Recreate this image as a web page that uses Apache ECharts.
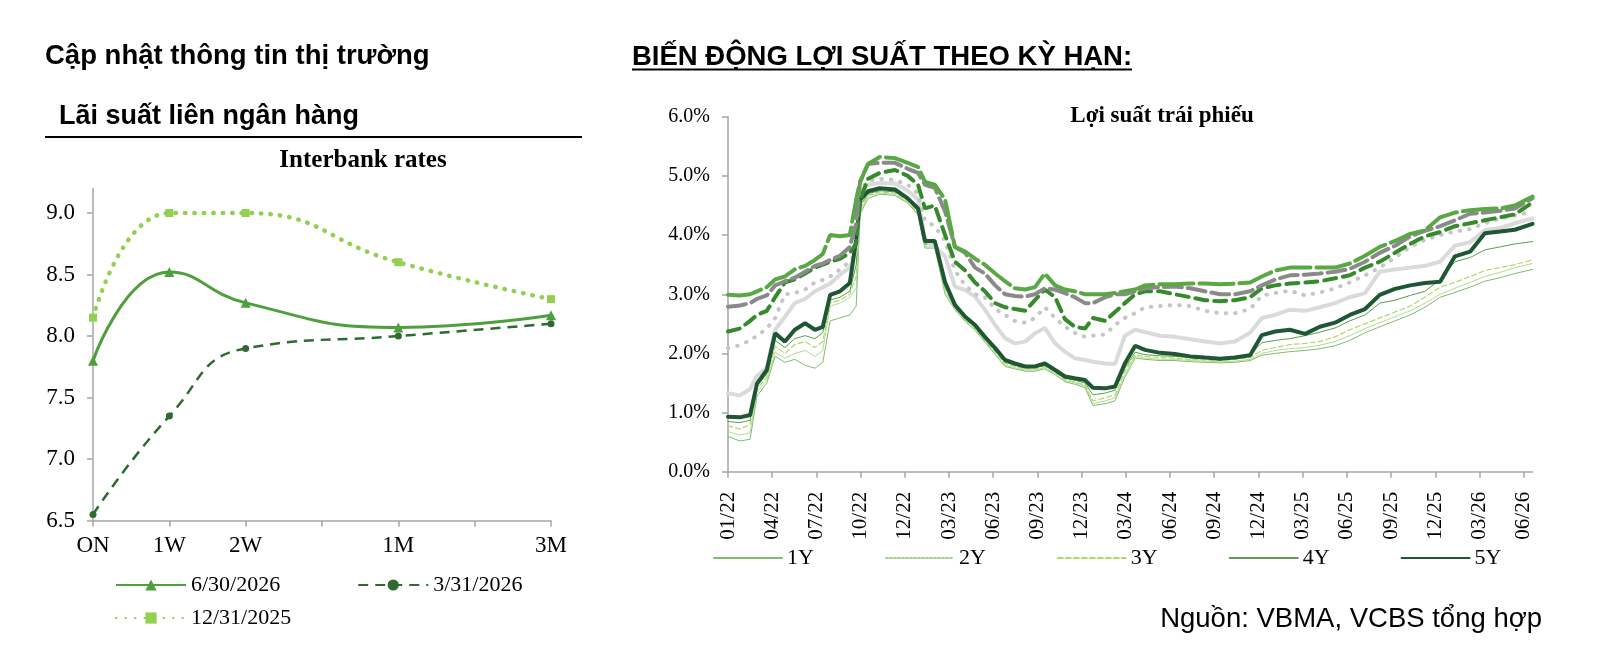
<!DOCTYPE html>
<html>
<head>
<meta charset="utf-8">
<script src="https://cdn.jsdelivr.net/npm/echarts@6/dist/echarts.min.js"></script>
<style>
  html, body { margin: 0; padding: 0; background: #fff; }
  #main { width: 1600px; height: 647px; }
</style>
</head>
<body>
<div id="main"></div>
<script>
// ---- Lai suat lien ngan hang ----
var tenors = ['ON', '1W', '2W', '', '1M', '', '3M'];
var rate0630 = [7.8, 8.52, 8.27, null, 8.07, null, 8.17];
var rate0331 = [6.55, 7.35, 7.9, null, 8.0, null, 8.1];
var rate1231 = [8.15, 9.0, 9.0, null, 8.6, null, 8.3];

// ---- Loi suat trai phieu (ngay tinh tu 04/01/2022) ----
var tickLabels = ['01/22', '04/22', '07/22', '10/22', '12/22', '03/23', '06/23', '09/23', '12/23', '03/24',
    '06/24', '09/24', '12/24', '03/25', '06/25', '09/25', '12/25', '03/26', '06/26'];
var days = [0, 24, 45, 59, 79, 96, 116, 136, 157, 177,
    193, 208, 228, 248, 261, 269, 285, 309, 340, 366,
    387, 401, 421, 442, 462, 483, 503, 523, 544, 564,
    584, 605, 625, 645, 666, 686, 706, 727, 743, 768,
    788, 808, 829, 849, 880, 910, 941, 971, 1002, 1032,
    1063, 1087, 1114, 1144, 1175, 1205, 1236, 1266, 1297, 1327,
    1358, 1389, 1419, 1450, 1480, 1511, 1541, 1572, 1602, 1638];
var y1 = [0.6, 0.52, 0.55, 1.28, 1.5, 1.95, 1.85, 1.9, 1.8, 1.75,
    1.85, 2.55, 2.6, 2.65, 2.8, 4.35, 4.62, 4.69, 4.67, 4.54,
    4.34, 3.78, 3.78, 3.0, 2.74, 2.54, 2.39, 2.19, 1.98, 1.78,
    1.74, 1.7, 1.7, 1.74, 1.64, 1.52, 1.48, 1.42, 1.12, 1.15,
    1.2, 1.6, 1.92, 1.9, 1.88, 1.88, 1.86, 1.85, 1.84, 1.85,
    1.88, 1.97, 2.0, 2.03, 2.05, 2.08, 2.13, 2.22, 2.35, 2.45,
    2.55, 2.65, 2.78, 2.95, 3.03, 3.12, 3.22, 3.28, 3.35, 3.42];
var y2 = [0.68, 0.62, 0.66, 1.35, 1.55, 2.02, 1.92, 2.0, 2.05, 1.95,
    2.05, 2.8, 2.85, 2.95, 3.1, 4.4, 4.66, 4.71, 4.69, 4.56,
    4.36, 3.8, 3.8, 3.05, 2.76, 2.56, 2.41, 2.21, 2.0, 1.8,
    1.76, 1.72, 1.72, 1.76, 1.66, 1.54, 1.5, 1.45, 1.15, 1.2,
    1.25, 1.65, 1.95, 1.92, 1.9, 1.9, 1.88, 1.87, 1.86, 1.87,
    1.9, 2.0, 2.05, 2.08, 2.1, 2.14, 2.2, 2.3, 2.42, 2.52,
    2.62, 2.72, 2.85, 3.0, 3.1, 3.2, 3.3, 3.37, 3.45, 3.52];
var y3 = [0.78, 0.72, 0.8, 1.4, 1.6, 2.12, 2.0, 2.15, 2.2, 2.1,
    2.2, 2.85, 2.9, 3.0, 3.3, 4.45, 4.68, 4.73, 4.71, 4.58,
    4.38, 3.83, 3.83, 3.1, 2.78, 2.58, 2.43, 2.23, 2.03, 1.83,
    1.78, 1.74, 1.74, 1.78, 1.68, 1.56, 1.52, 1.47, 1.2, 1.25,
    1.3, 1.7, 1.98, 1.95, 1.93, 1.92, 1.9, 1.89, 1.88, 1.9,
    1.93, 2.05, 2.1, 2.15, 2.17, 2.2, 2.28, 2.4, 2.5, 2.6,
    2.7, 2.8, 2.95, 3.12, 3.2, 3.3, 3.4, 3.45, 3.5, 3.58];
var y4 = [0.85, 0.83, 0.87, 1.45, 1.65, 2.22, 2.1, 2.25, 2.3, 2.25,
    2.35, 2.9, 2.95, 3.05, 3.5, 4.5, 4.7, 4.75, 4.73, 4.6,
    4.4, 3.85, 3.85, 3.15, 2.8, 2.6, 2.45, 2.25, 2.05, 1.85,
    1.8, 1.76, 1.76, 1.8, 1.7, 1.58, 1.55, 1.5, 1.3, 1.33,
    1.38, 1.75, 2.02, 1.98, 1.96, 1.95, 1.93, 1.92, 1.92, 1.95,
    1.98, 2.18, 2.22, 2.25, 2.3, 2.36, 2.43, 2.55, 2.65, 2.85,
    2.9, 2.98, 3.05, 3.25, 3.55, 3.62, 3.75, 3.8, 3.85, 3.89];
var y5 = [0.93, 0.92, 0.96, 1.49, 1.72, 2.34, 2.2, 2.4, 2.51, 2.4,
    2.45, 2.99, 3.05, 3.19, 3.92, 4.6, 4.74, 4.79, 4.77, 4.62,
    4.45, 3.9, 3.9, 3.2, 2.82, 2.62, 2.48, 2.28, 2.09, 1.89,
    1.83, 1.78, 1.78, 1.83, 1.72, 1.61, 1.58, 1.55, 1.42, 1.41,
    1.44, 1.83, 2.13, 2.06, 2.01, 1.99, 1.95, 1.93, 1.91, 1.93,
    1.97, 2.31, 2.37, 2.4, 2.33, 2.45, 2.52, 2.65, 2.75, 2.99,
    3.09, 3.15, 3.19, 3.21, 3.64, 3.72, 4.03, 4.06, 4.09, 4.19];
var y7 = [1.33, 1.29, 1.4, 1.62, 1.76, 2.4, 2.62, 2.85, 2.92, 3.05,
    3.12, 3.18, 3.33, 3.45, 3.75, 4.7, 4.85, 4.88, 4.87, 4.75,
    4.6, 3.92, 3.81, 3.64, 3.13, 3.07, 2.96, 2.74, 2.48, 2.26,
    2.17, 2.2, 2.34, 2.43, 2.17, 2.03, 1.92, 1.89, 1.86, 1.83,
    1.82, 2.3, 2.4, 2.36, 2.3, 2.28, 2.24, 2.2, 2.17, 2.2,
    2.35, 2.6, 2.65, 2.74, 2.72, 2.78, 2.85, 2.95, 3.02, 3.38,
    3.42, 3.45, 3.48, 3.55, 3.82, 3.88, 4.08, 4.12, 4.2, 4.28];
var y10 = [2.09, 2.14, 2.22, 2.3, 2.42, 2.6, 3.0, 3.02, 3.08, 3.2,
    3.24, 3.3, 3.42, 3.55, 3.7, 4.75, 4.92, 4.95, 4.93, 4.85,
    4.7, 4.25, 4.15, 3.9, 3.4, 3.15, 3.0, 2.95, 2.75, 2.65,
    2.55, 2.52, 2.6, 2.78, 2.6, 2.45, 2.35, 2.28, 2.3, 2.32,
    2.48, 2.6, 2.68, 2.78, 2.8, 2.82, 2.8, 2.72, 2.68, 2.68,
    2.75, 2.98, 3.02, 3.06, 2.98, 3.03, 3.1, 3.2, 3.32, 3.45,
    3.62, 3.8, 3.92, 4.0, 4.06, 4.1, 4.2, 4.28, 4.33, 4.4];
var y15 = [2.37, 2.42, 2.55, 2.65, 2.72, 2.95, 3.2, 3.25, 3.35, 3.45,
    3.5, 3.55, 3.6, 3.7, 3.85, 4.6, 4.95, 5.05, 5.1, 5.0,
    4.85, 4.45, 4.5, 4.0, 3.55, 3.4, 3.2, 3.05, 2.85, 2.78,
    2.75, 2.72, 2.9, 3.08, 2.95, 2.58, 2.45, 2.42, 2.6, 2.55,
    2.7, 2.85, 3.0, 3.05, 3.05, 3.0, 2.95, 2.9, 2.88, 2.9,
    2.95, 3.1, 3.15, 3.18, 3.2, 3.22, 3.27, 3.32, 3.45, 3.55,
    3.7, 3.85, 3.98, 4.05, 4.15, 4.2, 4.25, 4.3, 4.35, 4.55];
var y20 = [2.79, 2.81, 2.85, 2.92, 2.98, 3.15, 3.22, 3.28, 3.38, 3.48,
    3.52, 3.58, 3.65, 3.8, 4.2, 4.9, 5.2, 5.22, 5.22, 5.12,
    5.05, 4.85, 4.8, 4.4, 3.8, 3.7, 3.45, 3.35, 3.15, 3.0,
    2.97, 2.96, 3.0, 3.1, 3.08, 3.02, 2.95, 2.85, 2.85, 2.95,
    3.0, 3.0, 3.05, 3.1, 3.12, 3.13, 3.1, 3.05, 3.0, 3.0,
    3.05, 3.15, 3.25, 3.32, 3.33, 3.35, 3.38, 3.43, 3.55, 3.7,
    3.82, 3.98, 4.07, 4.15, 4.25, 4.36, 4.38, 4.41, 4.45, 4.62];
var y30 = [2.99, 2.98, 3.0, 3.05, 3.12, 3.25, 3.3, 3.42, 3.48, 3.58,
    3.68, 4.0, 3.98, 4.0, 4.6, 4.9, 5.2, 5.32, 5.3, 5.22,
    5.15, 4.9, 4.85, 4.6, 3.8, 3.72, 3.6, 3.5, 3.35, 3.22,
    3.1, 3.08, 3.12, 3.35, 3.15, 3.08, 3.05, 3.0, 3.0, 3.0,
    3.02, 3.05, 3.08, 3.15, 3.17, 3.17, 3.18, 3.18, 3.17, 3.18,
    3.2, 3.3, 3.4, 3.45, 3.45, 3.45, 3.45, 3.52, 3.65, 3.8,
    3.9, 4.02, 4.08, 4.3, 4.38, 4.42, 4.44, 4.45, 4.5, 4.65];

var myChart = echarts.init(document.getElementById('main'));
var serif = 'Liberation Serif';
var sans = 'Liberation Sans';
var axisGray = '#a6a6a6';
var tickDays = tickLabels.map(function (l, i) { return i * 90; });

function pairs(arr) {
    return days.map(function (d, i) { return [d, arr[i]]; });
}

function yieldLine(name, arr, color, width, type) {
    return {
        name: name,
        type: 'line',
        xAxisIndex: 1,
        yAxisIndex: 1,
        showSymbol: false,
        symbol: 'none',
        animation: false,
        color: color,
        lineStyle: { color: color, width: width, type: type || 'solid', cap: 'round' },
        data: pairs(arr)
    };
}

option = {
    backgroundColor: '#fff',
    animation: false,
    graphic: [
        { type: 'text', style: { x: 45, y: 56, text: 'Cập nhật thông tin thị trường', font: 'bold 27.5px ' + sans, fill: '#000', verticalAlign: 'middle' } },
        { type: 'text', style: { x: 59, y: 117, text: 'Lãi suất liên ngân hàng', font: 'bold 27px ' + sans, fill: '#000', verticalAlign: 'middle' } },
        { type: 'line', shape: { x1: 45, y1: 137, x2: 582, y2: 137 }, style: { stroke: '#000', lineWidth: 2 } },
        { type: 'text', style: { x: 363, y: 161, text: 'Interbank rates', font: 'bold 25px ' + serif, fill: '#000', align: 'center', verticalAlign: 'middle' } },
        { type: 'text', style: { x: 632, y: 57, text: 'BIẾN ĐỘNG LỢI SUẤT THEO KỲ HẠN:', font: 'bold 27.5px ' + sans, fill: '#000', verticalAlign: 'middle' } },
        { type: 'line', shape: { x1: 632, y1: 69.5, x2: 1132, y2: 69.5 }, style: { stroke: '#000', lineWidth: 2 } },
        { type: 'text', style: { x: 1162, y: 116, text: 'Lợi suất trái phiếu', font: 'bold 23px ' + serif, fill: '#000', align: 'center', verticalAlign: 'middle' } },
        { type: 'text', style: { x: 1542, y: 619, text: 'Nguồn: VBMA, VCBS tổng hợp', font: '27.5px ' + sans, fill: '#000', align: 'right', verticalAlign: 'middle' } }
    ],
    legend: [
        {
            data: ['6/30/2026', '3/31/2026'],
            left: 110, top: 569,
            itemWidth: 70, itemHeight: 14, itemGap: 77,
            textStyle: { fontFamily: serif, fontSize: 22, color: '#000' }
        },
        {
            data: ['12/31/2025'],
            left: 110, top: 602,
            itemWidth: 70, itemHeight: 14,
            textStyle: { fontFamily: serif, fontSize: 22, color: '#000' }
        },
        {
            data: ['1Y', '2Y', '3Y', '4Y', '5Y'],
            left: 708, top: 542,
            itemWidth: 68, itemHeight: 12, itemGap: 71,
            itemStyle: { opacity: 0 },
            textStyle: { fontFamily: serif, fontSize: 22, color: '#000' }
        }
    ],
    grid: [
        { left: 93, top: 188.4, width: 458, height: 332.3 },
        { left: 728, top: 116.7, width: 804.5, height: 355.1 }
    ],
    xAxis: [
        {
            type: 'category',
            gridIndex: 0,
            data: tenors,
            boundaryGap: false,
            axisLine: { lineStyle: { color: axisGray, width: 1.5 } },
            axisTick: { show: true, interval: 0, length: 6, lineStyle: { color: axisGray, width: 1.5 } },
            axisLabel: { interval: 0, margin: 14, fontFamily: serif, fontSize: 23, color: '#000' }
        },
        {
            type: 'value',
            gridIndex: 1,
            min: 0,
            max: 1638,
            splitLine: { show: false },
            axisLine: { lineStyle: { color: axisGray, width: 1.5 } },
            axisTick: { show: true, length: 6, customValues: tickDays, lineStyle: { color: axisGray, width: 1.5 } },
            axisLabel: {
                customValues: tickDays,
                rotate: 90,
                margin: 20,
                fontFamily: serif,
                fontSize: 21,
                color: '#000',
                formatter: function (v) { return tickLabels[Math.round(v / 90)] || ''; }
            }
        }
    ],
    yAxis: [
        {
            type: 'value',
            gridIndex: 0,
            min: 6.5,
            max: 9.2,
            splitLine: { show: false },
            axisLine: { show: true, lineStyle: { color: axisGray, width: 1.5 } },
            axisTick: { show: true, length: 6, customValues: [6.5, 7, 7.5, 8, 8.5, 9], lineStyle: { color: axisGray, width: 1.5 } },
            axisLabel: {
                customValues: [6.5, 7, 7.5, 8, 8.5, 9],
                margin: 18,
                fontFamily: serif,
                fontSize: 23,
                color: '#000',
                formatter: function (v) { return v.toFixed(1); }
            }
        },
        {
            type: 'value',
            gridIndex: 1,
            min: 0,
            max: 6,
            interval: 1,
            splitLine: { show: false },
            axisLine: { show: true, lineStyle: { color: axisGray, width: 1.5 } },
            axisTick: { show: true, length: 6, lineStyle: { color: axisGray, width: 1.5 } },
            axisLabel: {
                margin: 18,
                fontFamily: serif,
                fontSize: 20,
                color: '#000',
                formatter: function (v) { return v.toFixed(1) + '%'; }
            }
        }
    ],
    series: [
        {
            name: '12/31/2025', type: 'line', xAxisIndex: 0, yAxisIndex: 0,
            smooth: true, connectNulls: true,
            symbol: 'rect', symbolSize: 8,
            color: '#92d050',
            itemStyle: { color: '#92d050' },
            lineStyle: { color: '#92d050', width: 4.5, type: [0.5, 9], cap: 'round' },
            data: rate1231
        },
        {
            name: '3/31/2026', type: 'line', xAxisIndex: 0, yAxisIndex: 0,
            smooth: true, connectNulls: true,
            symbol: 'circle', symbolSize: 7,
            color: '#2e6b30',
            itemStyle: { color: '#2e6b30' },
            lineStyle: { color: '#2e6b30', width: 2.5, type: [10, 7] },
            data: rate0331
        },
        {
            name: '6/30/2026', type: 'line', xAxisIndex: 0, yAxisIndex: 0,
            smooth: true, connectNulls: true,
            symbol: 'triangle', symbolSize: 10,
            color: '#4e9f3d',
            itemStyle: { color: '#4e9f3d' },
            lineStyle: { color: '#4e9f3d', width: 3 },
            data: rate0630
        },
        yieldLine('1Y', y1, '#7cbf6a', 1, 'solid'),
        yieldLine('2Y', y2, '#a9d18e', 1, 'dotted'),
        yieldLine('3Y', y3, '#b2d865', 1.2, [5, 3]),
        yieldLine('4Y', y4, '#5a9e4e', 1, 'solid'),
        yieldLine('7Y', y7, '#dadada', 4, 'solid'),
        yieldLine('10Y', y10, '#c6c6c6', 4, [0.5, 9]),
        yieldLine('5Y', y5, '#1f5735', 4, 'solid'),
        yieldLine('15Y', y15, '#358a2c', 4, [12, 7]),
        yieldLine('20Y', y20, '#8a8a8a', 4, [18, 6]),
        yieldLine('30Y', y30, '#5aa845', 4, [34, 6])
    ]
};

myChart.setOption(option);
</script>
</body>
</html>
